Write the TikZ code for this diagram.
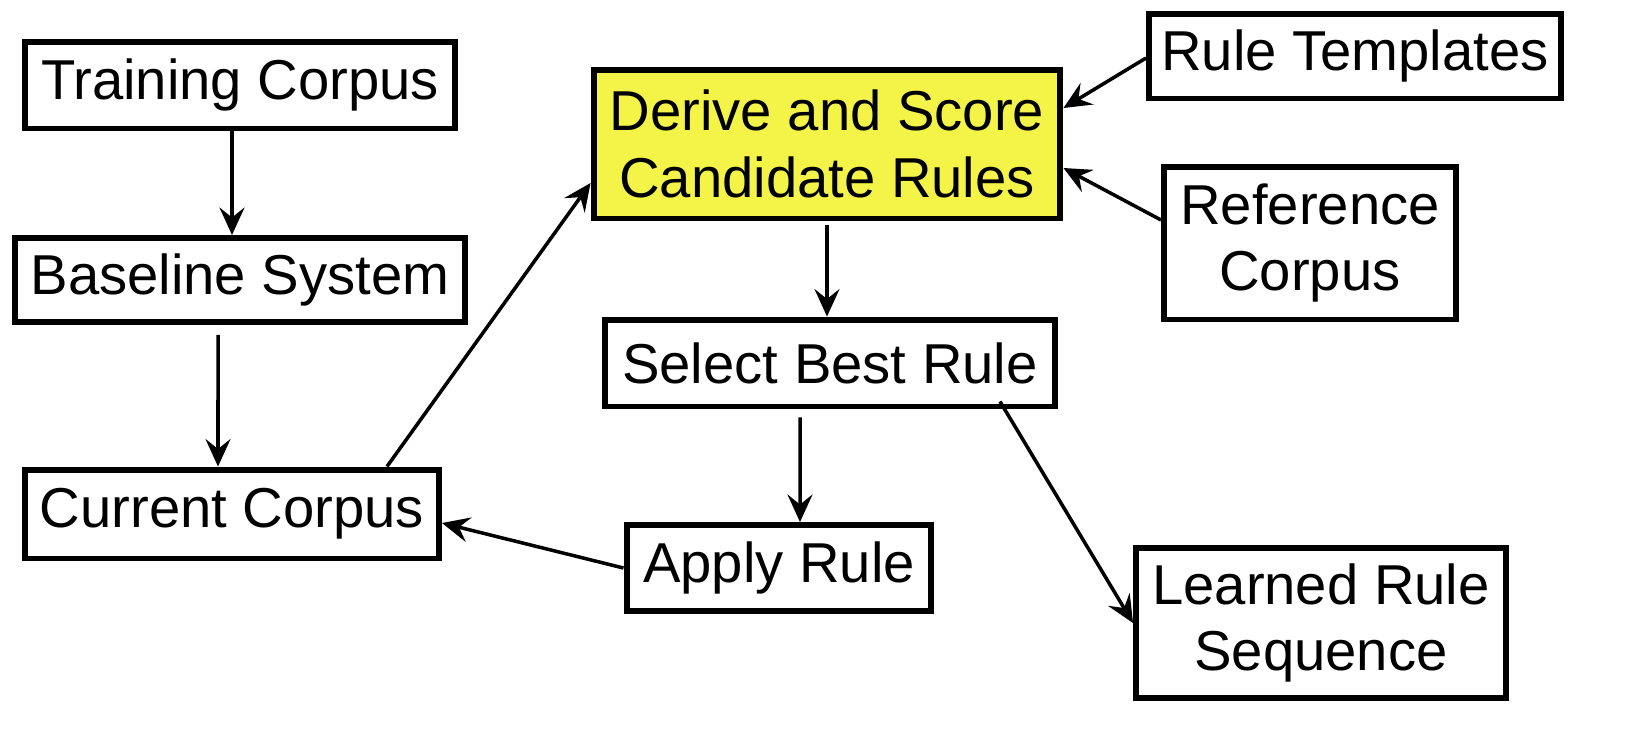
\documentclass[tikz,border=0pt]{standalone}
\usepackage{fontspec}
\setmainfont{Liberation Sans}
\usetikzlibrary{calc}
\usetikzlibrary{arrows.meta}

\definecolor{boxyellow}{RGB}{244,244,72}
\tikzset{
  box/.style = {draw, line width=3.4pt, fill=white, align=center, inner sep=0pt,
                font=\fontsize{32}{38}\selectfont},
  arr/.style = {line width=2pt, -{Stealth[length=0.55cm, width=0.5cm, inset=0.2cm]}}
}

\begin{document}
\begin{tikzpicture}[x=0.02cm, y=-0.02cm]
    \useasboundingbox (0,0) rectangle (1642,735);
    % left column
    \node[box, minimum width=8.6cm, minimum height=1.74cm] (train) at (240,85) {Training Corpus};
    \node[box, minimum width=9.0cm, minimum height=1.68cm] (base) at (240,280) {Baseline System};
    \node[box, minimum width=8.28cm, minimum height=1.78cm] (cur) at (232,514) {Current Corpus};
    % middle column
    \node[box, fill=boxyellow, minimum width=9.34cm, minimum height=2.98cm] (der) at (827,144) {Derive and Score\\Candidate Rules};
    \node[box, minimum width=9.0cm, minimum height=1.74cm] (sel) at (830,363) {Select Best Rule};
    \node[box, minimum width=6.1cm, minimum height=1.72cm] (app) at (779,568) {Apply Rule};
    % right column
    \node[box, minimum width=8.24cm, minimum height=1.7cm] (tmpl) at (1355,56) {Rule Templates};
    \node[box, minimum width=5.84cm, minimum height=3.06cm] (ref) at (1310,243) {Reference\\Corpus};
    \node[box, minimum width=7.4cm, minimum height=3.0cm] (lrs) at (1321,623) {Learned Rule\\Sequence};

    \draw[arr] ([xshift=-0.16cm]train.south) -- ([xshift=-0.16cm]base.north);
    \draw[arr] ([xshift=-0.44cm, yshift=-0.2cm]base.south) -- ([xshift=-0.28cm]cur.north);
    \draw[arr] ([xshift=3.1cm]cur.north) -- ([yshift=-0.78cm]der.west);
    \draw[arr] ([yshift=-0.08cm]der.south) -- (der.south |- sel.north);
    \draw[arr] ([yshift=-0.04cm]tmpl.west) -- ([yshift=0.72cm]der.east);
    \draw[arr] ([yshift=0.46cm]ref.west) -- ([yshift=-0.48cm]der.east);
    \draw[arr] ([xshift=-0.6cm, yshift=-0.16cm]sel.south) -- ([xshift=0.42cm]app.north);
    \draw[arr] ([xshift=3.4cm, yshift=0.16cm]sel.south) -- (lrs.west);
    \draw[arr] (app.west) -- ([yshift=-0.18cm]cur.east);
\end{tikzpicture}
\end{document}
